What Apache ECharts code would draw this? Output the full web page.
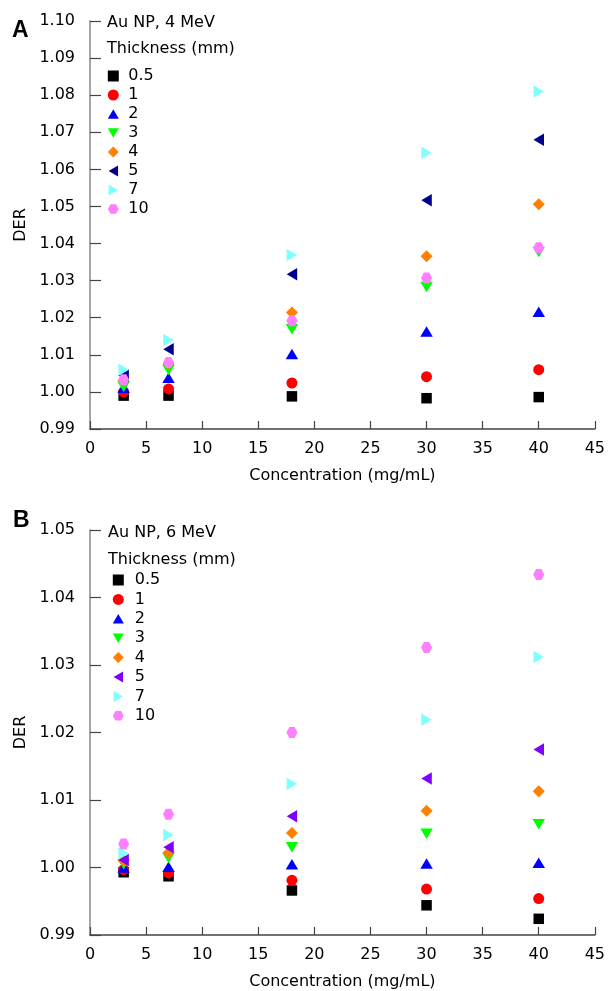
<!DOCTYPE html>
<html>
<head>
<meta charset="utf-8">
<script src="https://cdn.jsdelivr.net/npm/echarts@6/dist/echarts.min.js"></script>
<style>
html,body{margin:0;padding:0;background:#fff;}
#chart{width:608px;height:991px;}
</style>
</head>
<body>
<div id="chart"></div>
<script>
// ---- data ----
const concentrations = [3, 7, 18, 30, 40];
const thicknessNames = ['0.5', '1', '2', '3', '4', '5', '7', '10'];
const xTicks = [0, 5, 10, 15, 20, 25, 30, 35, 40, 45];

// Panel A: Au NP, 4 MeV
const A_05 = [0.9990, 0.9990, 0.9988, 0.9983, 0.9986];
const A_1  = [1.0000, 1.0008, 1.0024, 1.0041, 1.0060];
const A_2  = [1.0011, 1.0038, 1.0102, 1.0163, 1.0216];
const A_3  = [1.0014, 1.0059, 1.0169, 1.0283, 1.0377];
const A_4  = [1.0030, 1.0075, 1.0214, 1.0366, 1.0506];
const A_5  = [1.0044, 1.0115, 1.0317, 1.0517, 1.0680];
const A_7  = [1.0060, 1.0140, 1.0369, 1.0645, 1.0810];
const A_10 = [1.0033, 1.0079, 1.0192, 1.0307, 1.0389];

// Panel B: Au NP, 6 MeV
const B_05 = [0.9993, 0.9987, 0.9966, 0.9944, 0.9924];
const B_1  = [0.9997, 0.9992, 0.9981, 0.9968, 0.9954];
const B_2  = [1.0000, 1.0001, 1.0005, 1.0006, 1.0007];
const B_3  = [1.0005, 1.0014, 1.0030, 1.0050, 1.0064];
const B_4  = [1.0010, 1.0022, 1.0051, 1.0084, 1.0113];
const B_5  = [1.0011, 1.0030, 1.0076, 1.0132, 1.0175];
const B_7  = [1.0021, 1.0048, 1.0124, 1.0219, 1.0312];
const B_10 = [1.0035, 1.0079, 1.0200, 1.0326, 1.0434];

const A_series = [A_05, A_1, A_2, A_3, A_4, A_5, A_7, A_10];
const B_series = [B_05, B_1, B_2, B_3, B_4, B_5, B_7, B_10];

// ---- styles ----
const FONT = 'DejaVu Sans';
const symbols = [
  {s: 'path://M0,0 L10,0 L10,10 L0,10 Z', size: [10.5, 10.5]},
  {s: 'circle', size: 11},
  {s: 'path://M5,0 L10,8.66 L0,8.66 Z', size: [12.5, 10.5]},
  {s: 'path://M0,0 L10,0 L5,8.66 Z', size: [12.5, 10.5]},
  {s: 'path://M5,0 L10,5 L5,10 L0,5 Z', size: [12, 12]},
  {s: 'path://M0,5 L8.66,0 L8.66,10 Z', size: [10.5, 12.5]},
  {s: 'path://M0,0 L8.66,5 L0,10 Z', size: [10.5, 12.5]},
  {s: 'path://M2.5,0.67 L7.5,0.67 L10,5 L7.5,9.33 L2.5,9.33 L0,5 Z', size: [11, 11]}
];
const colorsA = ['#000000', '#ff0000', '#0000ff', '#00ff00', '#ff7f00', '#000090', '#80ffff', '#ff80ff'];
const colorsB = ['#000000', '#ff0000', '#0000ff', '#00ff00', '#ff7f00', '#8000ff', '#80ffff', '#ff80ff'];

function makeSeries(prefix, arrs, colors, idx) {
  return arrs.map((vals, i) => ({
    name: prefix + ' ' + thicknessNames[i],
    type: 'scatter',
    xAxisIndex: idx,
    yAxisIndex: idx,
    symbol: symbols[i].s,
    symbolSize: symbols[i].size,
    itemStyle: {color: colors[i], opacity: 1},
    emphasis: {disabled: true},
    data: concentrations.map((c, k) => [c, vals[k]])
  }));
}

function xAxis(idx) {
  return {
    type: 'value', gridIndex: idx, min: 0, max: 45, interval: 5,
    name: 'Concentration (mg/mL)', nameLocation: 'middle', nameGap: 39,
    nameTextStyle: {fontFamily: FONT, fontSize: 16, color: '#000'},
    axisLine: {show: true, onZero: false, lineStyle: {color: '#444', width: 1.5}},
    axisTick: {show: true, inside: true, length: 8, lineStyle: {color: '#444', width: 1.2}},
    axisLabel: {fontFamily: FONT, fontSize: 16, color: '#000', margin: 12,
      formatter: v => xTicks.includes(v) ? String(v) : ''},
    splitLine: {show: false}
  };
}
function yAxis(idx, max) {
  return {
    type: 'value', gridIndex: idx, min: 0.99, max: max, interval: 0.01,
    name: 'DER', nameLocation: 'middle', nameGap: 60, nameRotate: 90,
    nameTextStyle: {fontFamily: FONT, fontSize: 16, color: '#000'},
    axisLine: {show: true, onZero: false, lineStyle: {color: '#888', width: 1.5}},
    axisTick: {show: true, inside: true, length: 11, lineStyle: {color: '#444', width: 1.2}},
    axisLabel: {fontFamily: FONT, fontSize: 16, color: '#000', margin: 15,
      padding: [5, 0, 0, 0],
      formatter: v => v.toFixed(2)},
    splitLine: {show: false}
  };
}
function legend(prefix, left, top, gap, pad) {
  return {
    orient: 'vertical', left: left, top: top, padding: 0,
    itemWidth: 11, itemHeight: 11, itemGap: gap,
    selectedMode: false,
    data: thicknessNames.map(n => prefix + ' ' + n),
    formatter: name => name.split(' ')[1],
    textStyle: {fontFamily: FONT, fontSize: 16, lineHeight: 16, color: '#000', padding: [0, 0, 0, pad]}
  };
}

const chart = echarts.init(document.getElementById('chart'), null, {renderer: 'canvas'});
chart.setOption({
  backgroundColor: '#fff',
  animation: false,
  grid: [
    {left: 90, top: 21, width: 506, height: 408},
    {left: 90, top: 530, width: 506, height: 407}
  ],
  xAxis: [xAxis(0), xAxis(1)],
  yAxis: [yAxis(0, 1.10), yAxis(1, 1.05)],
  legend: [legend('A', 107.8, 68, 3, 4.5), legend('B', 112.8, 572, 3.4, 6)],
  graphic: [
    {type: 'text', left: 12, top: 19, style: {text: 'A', font: 'bold 23px "Liberation Sans"', fill: '#000'}},
    {type: 'text', left: 13, top: 509, style: {text: 'B', font: 'bold 23px "Liberation Sans"', fill: '#000'}},
    {type: 'text', x: 107, y: 23, style: {text: 'Au NP, 4 MeV', font: '16px "DejaVu Sans"', fill: '#000', verticalAlign: 'middle'}},
    {type: 'text', x: 107, y: 49, style: {text: 'Thickness (mm)', font: '16px "DejaVu Sans"', fill: '#000', verticalAlign: 'middle'}},
    {type: 'text', x: 108, y: 533, style: {text: 'Au NP, 6 MeV', font: '16px "DejaVu Sans"', fill: '#000', verticalAlign: 'middle'}},
    {type: 'text', x: 108, y: 560, style: {text: 'Thickness (mm)', font: '16px "DejaVu Sans"', fill: '#000', verticalAlign: 'middle'}}
  ],
  series: [...makeSeries('A', A_series, colorsA, 0), ...makeSeries('B', B_series, colorsB, 1)]
});
</script>
</body>
</html>
